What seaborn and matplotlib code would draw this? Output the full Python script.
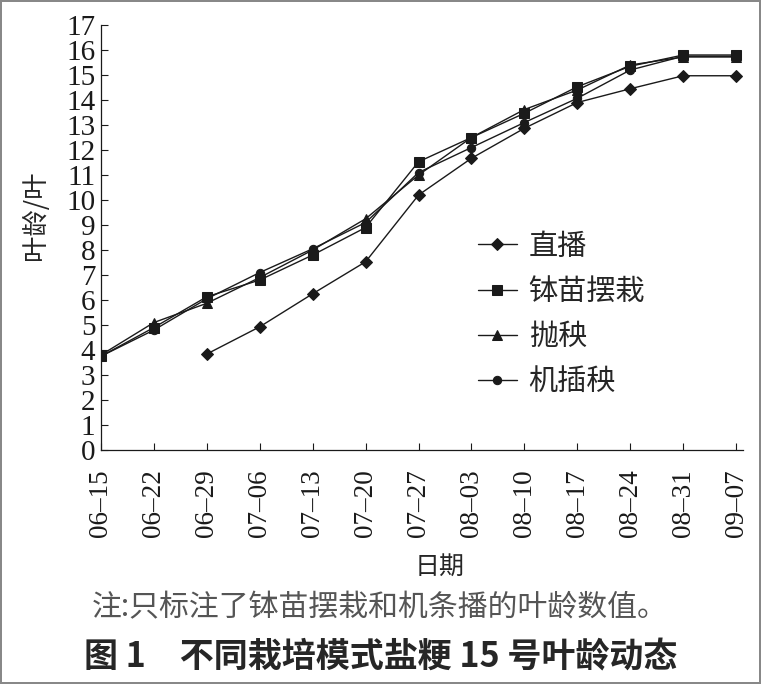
import matplotlib
matplotlib.use("Agg")
import matplotlib.pyplot as plt
import seaborn as sns
import numpy as np
import pandas as pd

dates = ["06–15", "06–22", "06–29", "07–06", "07–13", "07–20", "07–27",
         "08–03", "08–10", "08–17", "08–24", "08–31", "09–07"]
series_names = ["直播", "钵苗摆栽", "抛秧", "机插秧"]
zhibo = [np.nan, np.nan, 3.84, 4.93, 6.25, 7.53, 10.2, 11.67, 12.87, 13.9, 14.45, 14.97, 14.97]
bomiao = [3.75, 4.9, 6.13, 6.8, 7.8, 8.9, 11.53, 12.5, 13.47, 14.53, 15.35, 15.8, 15.8]
paoyang = [3.8, 5.1, 5.87, 6.9, 8.0, 9.25, 11.0, 12.5, 13.62, 14.4, 15.4, 15.72, 15.72]
jicha = [3.75, 4.8, 6.05, 7.1, 8.05, 9.1, 11.1, 12.1, 13.1, 14.07, 15.2, 15.75, 15.75]
ylabel = "叶龄/叶"
xlabel = "日期"
note = "注:只标注了钵苗摆栽和机条播的叶龄数值。"
title = "图 1　不同栽培模式盐粳 15 号叶龄动态"

sns.set_style("ticks")
plt.rcParams['font.family'] = ['Liberation Serif', 'Noto Sans CJK SC', 'DejaVu Sans']

rows = []
for name, vals in zip(series_names, [zhibo, bomiao, paoyang, jicha]):
    for i, v in enumerate(vals):
        rows.append({"x": i, "val": v, "series": name})
df = pd.DataFrame(rows)

fig = plt.figure(figsize=(7.61, 6.84), dpi=100)
ax = fig.add_axes([101/761, 1-450/684, 642/761, 425/684])

markers = {"直播": "D", "钵苗摆栽": "s", "抛秧": "^", "机插秧": "o"}
sizes = {"直播": 6, "钵苗摆栽": 7, "抛秧": 7, "机插秧": 6}
for name in series_names:
    sub = df[df.series == name].dropna()
    sns.lineplot(data=sub, x="x", y="val", ax=ax, color="#1a1a1a", lw=1.0,
                 marker=markers[name], markersize=sizes[name],
                 markeredgecolor="#1a1a1a", markerfacecolor="#1a1a1a",
                 label=name, estimator=None, sort=False)

ax.set_xlim(0, 12.13)
ax.set_ylim(0, 17)
ax.set_xticks(range(len(dates)))
ax.set_xticklabels(dates, rotation=90, fontsize=19.5)
ax.set_yticks(range(0, 18))
ax.set_yticklabels([str(i) for i in range(18)], fontsize=21)
ax.tick_params(direction="in", length=5, width=0.8, colors="#1a1a1a")
ax.tick_params(axis="x", pad=14)
ax.tick_params(axis="y", pad=4)
for s in ["top", "right"]:
    ax.spines[s].set_visible(False)
for s in ["left", "bottom"]:
    ax.spines[s].set_color("#1a1a1a")
    ax.spines[s].set_linewidth(0.9)

ax.set_xlabel("")
ax.set_ylabel("")
fig.text(35/761, 1-215/684, ylabel, rotation=90, ha="center", va="center",
         fontsize=19, family=['Noto Sans CJK SC'])
fig.text(440/761, 1-567/684, xlabel, ha="center", va="center",
         fontsize=18, family=['Noto Sans CJK SC'])
fig.text(380/761, 1-608/684, note, ha="center", va="center",
         fontsize=21.5, color="#555555", family=['Noto Sans CJK SC'])
fig.text(381/761, 1-657/684, title, ha="center", va="center",
         fontsize=24.5, fontweight="bold", family=['Noto Sans CJK SC'])

handles, labels = ax.get_legend_handles_labels()
leg = ax.legend(handles, labels, loc="upper left",
                bbox_to_anchor=((463-101)/642, (450-217)/425),
                frameon=False, handlelength=1.35, handletextpad=0.4,
                labelspacing=0.52, borderpad=0,
                prop={'family': 'Noto Sans CJK SC', 'size': 21})

fig.patch.set_edgecolor("#888888")
fig.patch.set_linewidth(1.5)

fig.savefig("out.png", dpi=100, edgecolor=fig.get_edgecolor())
